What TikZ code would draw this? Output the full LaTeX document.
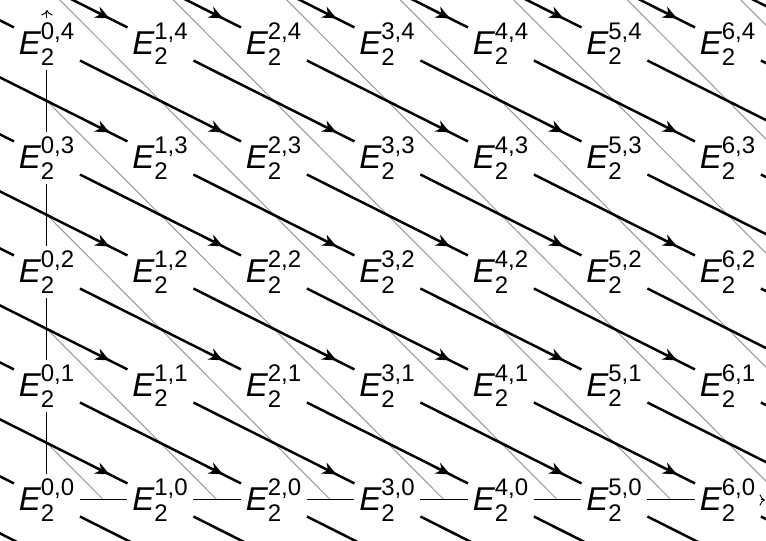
\documentclass[tikz,border=0pt]{standalone}
\usepackage{amsmath}
\usepackage{fontspec}
\setmainfont{Liberation Sans}
\usetikzlibrary{arrows.meta,decorations.markings}
\definecolor{diagGray}{HTML}{999999}
\DeclareMathSizes{16.5}{16.5}{12}{8}
\newcommand{\Etwo}[2]{$\textit{E}_{\text{2}}^{\text{#1,#2}}$}

\begin{document}
\begin{tikzpicture}[x=56.75pt,y=57pt,
  epage/.style={inner sep=2.2pt,font=\fontsize{16.5}{19}\selectfont},
  dtwo/.style={line width=1.25pt,postaction={decorate},
    decoration={markings,mark=at position -10pt with {\arrow{Stealth[length=7pt,width=6pt,inset=2.2pt]}}}},
  axisline/.style={line width=0.5pt},
  totline/.style={diagGray,line width=0.5pt}]
  \useasboundingbox (-0.414,-0.351) rectangle (6.335,4.386);
  \clip (-0.414,-0.351) rectangle (6.335,4.386);
  % the E_2 page, with the off-page spots as coordinates
  \foreach \p in {-2,...,8}
    \foreach \q in {-1,...,5}{
      \pgfmathtruncatemacro{\shown}{and(and(\p>=0,\p<=6),and(\q>=0,\q<=4))}
      \ifnum\shown=1
        \node[epage] (e\p\q) at (\p,\q) {\Etwo{\p}{\q}};
      \else
        \coordinate (e\p\q) at (\p,\q);
      \fi
    }
  \foreach \n in {0,...,10}
    \draw[totline] (0,\n+0.5) -- (\n+0.5,0);
  \foreach \q [count=\k from 1] in {0,...,3}
    \draw[axisline] (e0\q) -- (e0\k);
  \foreach \p [count=\k from 1] in {0,...,5}
    \draw[axisline] (e\p0) -- (e\k0);
  \coordinate (ytip) at (0,4.298);
  \coordinate (xtip) at (6.326,0);
  \draw[axisline,->] (e04) -- (ytip);
  \draw[axisline,->] (e60) -- (xtip);
  \foreach \p in {-2,...,6}
    \foreach \q in {0,...,5}{
      \pgfmathtruncatemacro{\pp}{\p+2}
      \pgfmathtruncatemacro{\qq}{\q-1}
      \draw[dtwo] (e\p\q) -- (e\pp\qq);
    }
\end{tikzpicture}
\end{document}
